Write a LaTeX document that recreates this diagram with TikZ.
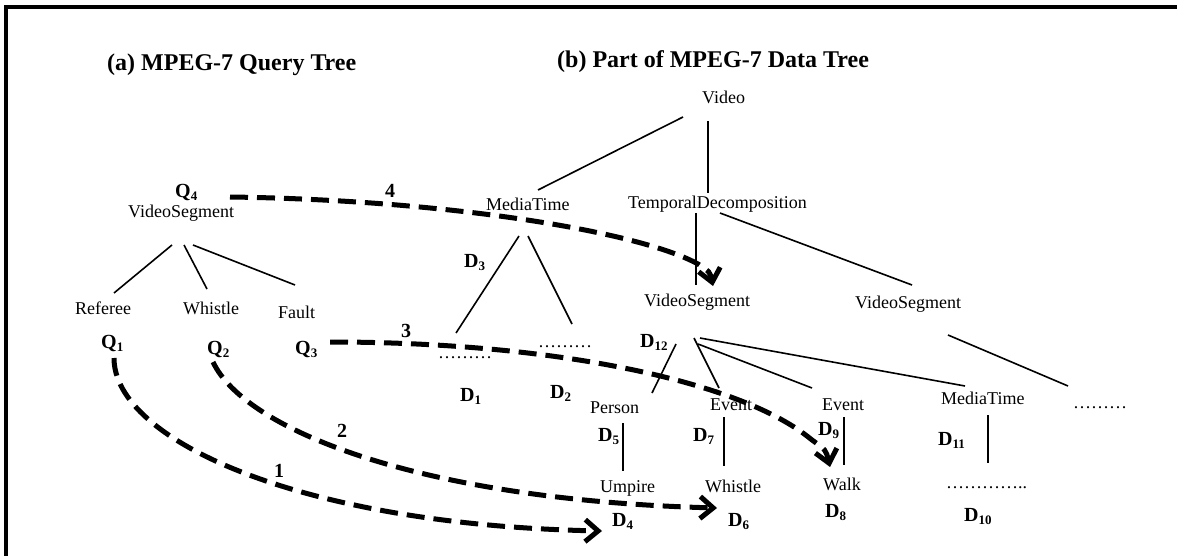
\documentclass[tikz,border=0pt]{standalone}
\usepackage{fontspec}
\setmainfont{Liberation Serif}
\usetikzlibrary{calc,arrows.meta}
\newcommand\lsub[1]{\raisebox{-3pt}{\fontsize{13}{13}\selectfont #1}}
\begin{document}
\begin{tikzpicture}[x=1pt,y=-1pt,
 lbl/.style={anchor=base west,inner sep=0pt,font=\fontsize{18}{20}\selectfont},
 idl/.style={anchor=base west,inner sep=0pt,font=\fontsize{20}{22}\selectfont\bfseries},
 ttl/.style={anchor=base west,inner sep=0pt,font=\fontsize{24}{26}\selectfont\bfseries},
 edge/.style={line width=1.6pt},
 match/.style={line width=5pt,dash pattern=on 18pt off 9pt,-{Straight Barb[length=13pt,width=22pt]}},
 frame/.style={line width=4pt}]
\useasboundingbox (0,0) rectangle (1177,556);
\draw[frame] (6,556) -- (6,7.5) -- (1177,7.5);

% titles
\node[ttl] (ta) at (107,71) {(a) MPEG-7 Query Tree};
\node[ttl] (tb) at (557,68) {(b) Part of MPEG-7 Data Tree};

% query tree
\node[lbl] (vsa) at (128,217) {VideoSegment};
\node[lbl] (ref) at (75,314) {Referee};
\node[lbl] (wha) at (183,314) {Whistle};
\node[lbl] (fault) at (278,318) {Fault};
\node[idl] (q4) at (175,197) {Q\lsub{4}};
\node[idl] (q1) at (101,348) {Q\lsub{1}};
\node[idl] (q2) at (207,354) {Q\lsub{2}};
\node[idl] (q3) at (295,354) {Q\lsub{3}};

% data tree
\node[lbl] (video) at (702,104) {Video};
\node[lbl] (mt1) at (486,210) {MediaTime};
\node[lbl] (td) at (628,208) {TemporalDecomposition};
\node[lbl] (vsm) at (644,306) {VideoSegment};
\node[lbl] (vsr) at (855,308) {VideoSegment};
\node[lbl] (dots1) at (438,358) {………};
\node[lbl] (dots2) at (538,347) {………};
\node[lbl] (dots3) at (1073,408) {………};
\node[lbl] (person) at (590,413) {Person};
\node[lbl] (ev1) at (710,410) {Event};
\node[lbl] (ev2) at (822,410) {Event};
\node[lbl] (mt2) at (941,404) {MediaTime};
\node[lbl] (umpire) at (600,492) {Umpire};
\node[lbl] (whb) at (705,492) {Whistle};
\node[lbl] (walk) at (823,490) {Walk};
\node[lbl] (dots4) at (946,488) {…………..};

\node[idl] (d3) at (464,267) {D\lsub{3}};
\node[idl] (d1) at (460,401) {D\lsub{1}};
\node[idl] (d2) at (550,398) {D\lsub{2}};
\node[idl] (d12) at (640,347) {D\lsub{12}};
\node[idl] (d5) at (598,441) {D\lsub{5}};
\node[idl] (d7) at (693,441) {D\lsub{7}};
\node[idl] (d9) at (818,435) {D\lsub{9}};
\node[idl] (d11) at (938,445) {D\lsub{11}};
\node[idl] (d4) at (612,526) {D\lsub{4}};
\node[idl] (d6) at (728,526) {D\lsub{6}};
\node[idl] (d8) at (825,517) {D\lsub{8}};
\node[idl] (d10) at (964,521) {D\lsub{10}};

% match numbers
\node[idl] (n1) at (274,477) {1};
\node[idl] (n2) at (337,437) {2};
\node[idl] (n3) at (401,337) {3};
\node[idl] (n4) at (385,197) {4};

% tree edges
\draw[edge] ($(vsa.base west)+(44,28)$) -- ($(ref.base west)+(39,-21)$);
\draw[edge] ($(vsa.base west)+(56,28)$) -- ($(wha.base west)+(24,-25)$);
\draw[edge] ($(vsa.base west)+(65,28)$) -- ($(fault.base west)+(17,-33)$);

\draw[edge] ($(video.base west)+(-19,13)$) -- ($(mt1.base west)+(52,-20)$);
\draw[edge] ($(video.base west)+(6,17)$) -- ($(td.base west)+(80,-15)$);
\draw[edge] ($(mt1.base west)+(33,26)$) -- ($(dots1.base west)+(18,-25)$);
\draw[edge] ($(mt1.base west)+(42,26)$) -- ($(dots2.base west)+(34,-23)$);
\draw[edge] ($(td.base west)+(68,5)$) -- ($(vsm.base west)+(52,-21)$);
\draw[edge] ($(td.base west)+(92,5)$) -- ($(vsr.base west)+(57,-23)$);
\draw[edge] ($(vsm.base west)+(32,38)$) -- ($(person.base west)+(62,-20)$);
\draw[edge] ($(vsm.base west)+(50,32)$) -- ($(ev1.base west)+(9,-22)$);
\draw[edge] ($(vsm.base west)+(54,38)$) -- ($(ev2.base west)+(-10,-22)$);
\draw[edge] ($(vsm.base west)+(56,32)$) -- ($(mt2.base west)+(24,-18)$);
\draw[edge] ($(vsr.base west)+(93,27)$) -- ($(dots3.base west)+(-5,-22)$);
\draw[edge] ($(person.base west)+(33,10)$) -- ($(umpire.base west)+(23,-21)$);
\draw[edge] ($(ev1.base west)+(14,7)$) -- ($(whb.base west)+(19,-26)$);
\draw[edge] ($(ev2.base west)+(22,7)$) -- ($(walk.base west)+(21,-25)$);
\draw[edge] ($(mt2.base west)+(47,11)$) -- ($(dots4.base west)+(42,-25)$);

% matching arrows
\draw[match] ($(q1.base west)+(13,10)$) .. controls (114,440) and (300,525) .. ($(d4.base west)+(-10,5)$);
\draw[match] ($(q2.base west)+(6,8)$) .. controls (245,430) and (420,500) .. ($(d6.base west)+(-11,-18)$);
\draw[match] ($(q3.base west)+(35,-12)$) .. controls (550,342) and (740,380) .. (812,440) .. controls (826,450) .. ($(walk.base west)+(7,-23)$);
\draw[match] ($(q4.base west)+(55,0)$) .. controls (450,200) and (640,232) .. (698,264) .. controls (710,272) .. ($(vsm.base west)+(69,-20)$);
\end{tikzpicture}
\end{document}
